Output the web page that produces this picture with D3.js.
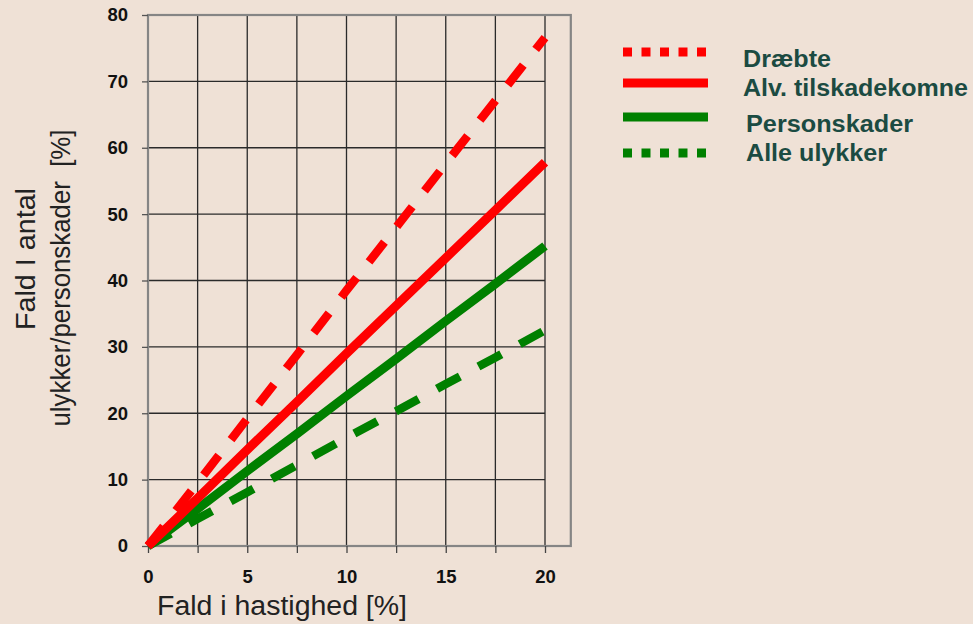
<!DOCTYPE html>
<html><head><meta charset="utf-8">
<script src="https://cdn.jsdelivr.net/npm/d3@7"></script>
<style>
html,body{margin:0;padding:0;background:#EFE1D6;}
svg{display:block;}
text{font-family:"Liberation Sans",Arial,sans-serif;}
</style></head>
<body>
<svg id="chart" width="973" height="624"></svg>
<script>
// ---- data ----
const speedDrop = [0, 2.5, 5, 7.5, 10, 12.5, 15, 17.5, 20];
const draebte = [0, 9.5, 19.2, 28.8, 38.5, 48, 57.6, 67.1, 76.6];
const alvTilskadekomne = [0, 7.2, 14.5, 21.7, 29.0, 36.2, 43.4, 50.6, 57.8];
const personskader = [0, 5.6, 11.3, 16.9, 22.6, 28.2, 33.9, 39.5, 45.2];
const alleUlykker = [0, 4.1, 8.1, 12.2, 16.3, 20.3, 24.4, 28.4, 32.5];
const xTickLabels = [0, 5, 10, 15, 20];
const yTickLabels = [0, 10, 20, 30, 40, 50, 60, 70, 80];
const xGridValues = [0, 2.5, 5, 7.5, 10, 12.5, 15, 17.5, 20];
const seriesNames = ["Dræbte", "Alv. tilskadekomne", "Personskader", "Alle ulykker"];
const xTitle = "Fald i hastighed [%]";
const yTitle1 = "Fald I antal";
const yTitle2 = "ulykker/personskader  [%]";

// ---- layout ----
const svg = d3.select("#chart");
const x = d3.scaleLinear().domain([0, 20]).range([148, 545]);
const y = d3.scaleLinear().domain([0, 80]).range([546, 15]);
const xMaxFrame = 21.3;

const series = [
  {name: seriesNames[3], values: alleUlykker, color: "#008000", dash: "26,21", w: 8.5},
  {name: seriesNames[2], values: personskader, color: "#008000", dash: null, w: 9},
  {name: seriesNames[1], values: alvTilskadekomne, color: "#FF0000", dash: null, w: 9},
  {name: seriesNames[0], values: draebte, color: "#FF0000", dash: "25,20", w: 8.5}
];

// grid
const grid = svg.append("g");
grid.selectAll("line.v").data(xGridValues).join("line")
  .attr("x1", d => x(d)).attr("x2", d => x(d))
  .attr("y1", y(0)).attr("y2", y(80))
  .attr("stroke", "#2a2a2a").attr("stroke-width", 1.3);
grid.selectAll("line.h").data(yTickLabels).join("line")
  .attr("x1", x(0)).attr("x2", x(20))
  .attr("y1", d => y(d)).attr("y2", d => y(d))
  .attr("stroke", "#2a2a2a").attr("stroke-width", 1.3);

// frame
svg.append("rect")
  .attr("x", x(0)).attr("y", y(80))
  .attr("width", x(xMaxFrame) - x(0)).attr("height", y(0) - y(80))
  .attr("fill", "none").attr("stroke", "#858585").attr("stroke-width", 2.2);

// axes
const yAxis = d3.axisLeft(y).tickValues(yTickLabels).tickSize(6).tickPadding(14).tickFormat(d3.format("d"));
const yg = svg.append("g").attr("transform", `translate(${x(0)},0)`).call(yAxis);
yg.select(".domain").remove();
yg.selectAll("line").attr("stroke", "#555").attr("stroke-width", 1.3);
yg.selectAll("text").attr("font-size", 18.5).attr("font-weight", "bold").attr("fill", "#111")
  .attr("font-family", "Liberation Sans, Arial, sans-serif");

const xAxisTicks = d3.axisBottom(x).tickValues(xGridValues).tickSize(7).tickFormat("");
const xg = svg.append("g").attr("transform", `translate(0,${y(0)})`).call(xAxisTicks);
xg.select(".domain").remove();
xg.selectAll("line").attr("stroke", "#444").attr("stroke-width", 1.3);

const xLab = d3.axisBottom(x).tickValues(xTickLabels).tickSize(0).tickPadding(24).tickFormat(d3.format("d"));
const xl = svg.append("g").attr("transform", `translate(0,${y(0)})`).call(xLab);
xl.select(".domain").remove();
xl.selectAll("text").attr("font-size", 18.5).attr("font-weight", "bold").attr("fill", "#111")
  .attr("font-family", "Liberation Sans, Arial, sans-serif");

// lines
const line = d3.line().x((d, i) => x(speedDrop[i])).y(d => y(d));
svg.append("g").selectAll("path").data(series).join("path")
  .attr("d", d => line(d.values))
  .attr("fill", "none")
  .attr("stroke", d => d.color)
  .attr("stroke-width", d => d.w)
  .attr("stroke-dasharray", d => d.dash)
  .attr("stroke-linecap", "butt");

// axis titles
svg.append("text").attr("x", 157).attr("y", 615)
  .attr("font-size", 27).attr("fill", "#222")
  .attr("textLength", 250).attr("lengthAdjust", "spacingAndGlyphs").text(xTitle);
svg.append("text").attr("transform", "translate(35,259) rotate(-90)")
  .attr("text-anchor", "middle").attr("font-size", 27).attr("fill", "#222")
  .attr("textLength", 142).attr("lengthAdjust", "spacingAndGlyphs").text(yTitle1);
svg.append("text").attr("transform", "translate(70,278) rotate(-90)")
  .attr("text-anchor", "middle").attr("font-size", 27).attr("fill", "#222")
  .attr("textLength", 297).attr("lengthAdjust", "spacingAndGlyphs")
  .attr("xml:space", "preserve").style("white-space", "pre").text(yTitle2);

// legend
const legendItems = [
  {name: seriesNames[0], color: "#FF0000", dash: "9,9.5", ly: 52, ty: 67, tx: 743, tl: 88},
  {name: seriesNames[1], color: "#FF0000", dash: null, ly: 83, ty: 96, tx: 743, tl: 225},
  {name: seriesNames[2], color: "#008000", dash: null, ly: 117, ty: 132, tx: 746, tl: 167},
  {name: seriesNames[3], color: "#008000", dash: "9,9.5", ly: 153, ty: 161, tx: 746, tl: 141}
];
const lg = svg.append("g");
lg.selectAll("line").data(legendItems).join("line")
  .attr("x1", 623).attr("x2", 708)
  .attr("y1", d => d.ly).attr("y2", d => d.ly)
  .attr("stroke", d => d.color).attr("stroke-width", 9)
  .attr("stroke-dasharray", d => d.dash);
lg.selectAll("text").data(legendItems).join("text")
  .attr("x", d => d.tx).attr("y", d => d.ty)
  .attr("font-size", 23.5).attr("font-weight", "bold").attr("fill", "#1B4B42")
  .attr("textLength", d => d.tl).attr("lengthAdjust", "spacingAndGlyphs")
  .text(d => d.name);
</script>
</body></html>
